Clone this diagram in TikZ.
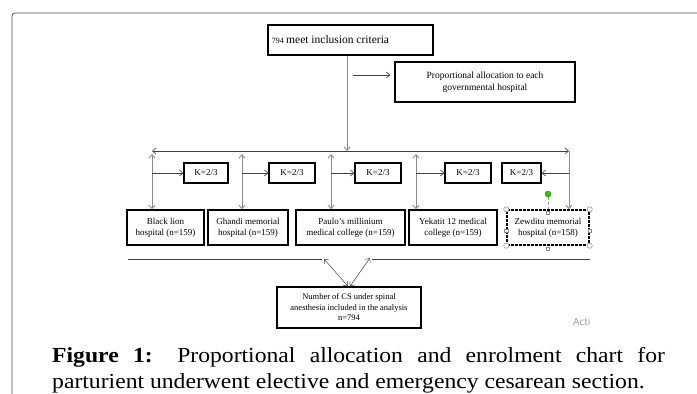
\documentclass[tikz,border=0pt]{standalone}
\usepackage{fontspec}
\setmainfont{Liberation Serif}
\newfontfamily\wmfont{Open Sans}
\usetikzlibrary{arrows.meta}
\begin{document}
\begin{tikzpicture}[x=1pt,y=-1pt,
  bx/.style={draw=black,line width=1.4pt,inner sep=0pt,align=center,font=\fontsize{9}{11}\selectfont},
  vline/.style={draw=black!45,line width=0.9pt},
  hline/.style={draw=black!75,line width=0.6pt},
  tip/.style={{Straight Barb[length=3.5pt,width=6pt]}-{Straight Barb[length=3.5pt,width=6pt]}},
  tipend/.style={-{Straight Barb[length=3.5pt,width=6pt]}},
  handle/.style={draw=black!45,fill=white,line width=0.5pt}]
\useasboundingbox (0,0) rectangle (697,394);
% outer frame
\draw[black!70,line width=0.8pt,rounded corners=3pt] (12,400) -- (12,13) -- (700,13);
% top boxes
\node[bx,minimum width=165,minimum height=30,anchor=center] (top) at (350.5,40)
  {\hspace*{-40pt}{\fontsize{8}{9}\selectfont 794} {\fontsize{11.5}{12}\selectfont meet inclusion criteria}};
\node[bx,minimum width=180,minimum height=40,font=\fontsize{9.5}{12}\selectfont] (prop) at (485,82)
  {Proportional allocation to each\\governmental hospital};
% K boxes
\node[bx,minimum width=44,minimum height=20] (k1) at (206,173) {K=2/3};
\node[bx,minimum width=46,minimum height=20] (k2) at (292,173) {K=2/3};
\node[bx,minimum width=46,minimum height=20] (k3) at (378,173) {K=2/3};
\node[bx,minimum width=46,minimum height=20] (k4) at (468,173) {K=2/3};
\node[bx,minimum width=39,minimum height=20] (k5) at (521.5,173) {K=2/3};
% hospital boxes
\node[bx,minimum width=77,minimum height=35] (h1) at (165.5,227.5) {Black lion\\hospital (n=159)};
\node[bx,minimum width=80,minimum height=35] (h2) at (248,227.5) {Ghandi memorial\\hospital (n=159)};
\node[bx,minimum width=109,minimum height=35] (h3) at (350.5,227.5) {Paulo's millinium\\medical college (n=159)};
\node[bx,minimum width=88,minimum height=35] (h4) at (453,227.5) {Yekatit 12 medical\\college (n=159)};
\node[bx,minimum width=82,minimum height=35,dash pattern=on 3pt off 1pt] (h5) at (548,227.5) {Zewditu memorial\\hospital (n=158)};
% bottom box
\node[bx,minimum width=144,minimum height=41,font=\fontsize{8.5}{10.5}\selectfont] (bot) at (349,307.5)
  {Number of CS under spinal\\anesthesia included in the analysis\\n=794};
% coordinates
\coordinate (c0) at (347,151);
\coordinate (pa) at (353,75);
\coordinate (hl) at (152,151);
\coordinate (hr) at (569,151);
\coordinate (v1) at (152,154);
\coordinate (v2) at (242,154);
\coordinate (v3) at (331,154);
\coordinate (v4) at (416,154);
\coordinate (b1) at (128,259);
\coordinate (b2) at (322,259);
\coordinate (b3) at (372,259);
\coordinate (b4) at (590,259);
\coordinate (d1) at (324,259);
\coordinate (d2) at (370,258);
% connectors
\draw[vline,tipend] (top.south -| c0) -- (c0);
\draw[hline,tipend] (pa) -- ([xshift=-4pt]prop.west |- pa);
\draw[hline,tip] (hl) -- (hr);
\draw[vline,tip] (v1) -- (v1 |- h1.north);
\draw[vline,tip] (v2) -- (v2 |- h2.north);
\draw[vline,tip] (v3) -- (v3 |- h3.north);
\draw[vline,tip] (v4) -- (v4 |- h4.north);
\draw[vline,tipend] (hr) -- (hr |- h5.north);
\draw[hline,tipend] (v1 |- k1) -- (k1.west);
\draw[hline,tipend] (v2 |- k2) -- (k2.west);
\draw[hline,tipend] (v3 |- k3) -- (k3.west);
\draw[hline,tipend] (v4 |- k4) -- (k4.west);
\draw[hline,tipend] (hr |- k5) -- (k5.east);
\draw[hline] (b1) -- (b2);
\draw[hline] (b3) -- (b4);
\draw[hline,tip,line width=0.5pt] (d1) -- ([xshift=-1pt]bot.north);
\draw[hline,tip,line width=0.5pt] (d2) -- ([xshift=1pt]bot.north);
% selection handles on Zewditu box
\draw[black!40,densely dashed,line width=0.5pt] (548,197) -- (h5.north);
\fill[green!65!black!70!lime,draw=green!50!black,line width=0.3pt] (548,194) circle (3);
\foreach \a in {north west,north east,south west,south east}
  \draw[handle] (h5.\a) circle (2.6);
\foreach \a in {north,south,west,east}
  \draw[handle] ([xshift=-1.6pt,yshift=-1.6pt]h5.\a) rectangle ++(3.2,3.2);
% watermark
\node[anchor=west,text=black!40,font=\wmfont\fontsize{10}{12}\selectfont,inner sep=0] (wm) at (573,322) {Acti};
% caption
\node[anchor=base west,inner sep=0,font=\fontsize{21.5}{24}\selectfont] (cap1) at (52,362)
  {\scalebox{1.1}[1]{\makebox[557pt][s]{\textbf{Figure 1:} Proportional allocation and enrolment chart for}}};
\node[anchor=base west,inner sep=0,font=\fontsize{21.5}{24}\selectfont] (cap2) at (52,388)
  {\scalebox{1.1}[1]{parturient underwent elective and emergency cesarean section.}};
\end{tikzpicture}
\end{document}
